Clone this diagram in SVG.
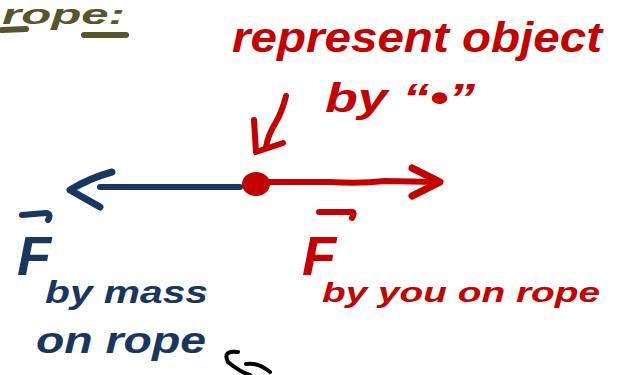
<svg xmlns="http://www.w3.org/2000/svg" width="619" height="375" viewBox="0 0 619 375">
<style>
.red{fill:#c40000}
.blue{fill:#19375e}
.olive{fill:#57552a}
.t{font-family:"Liberation Sans","DejaVu Sans",sans-serif;font-weight:bold;font-style:italic}
.sr{stroke:#c40000;fill:none;stroke-linecap:round;stroke-linejoin:round}
.sb{stroke:#19375e;fill:none;stroke-linecap:round;stroke-linejoin:round}
.so{stroke:#57552a;fill:none;stroke-linecap:round}
</style>
<rect width="619" height="375" fill="#ffffff"/>
<g id="title">
<text class="t olive" x="2" y="24" font-size="28" textLength="123" lengthAdjust="spacingAndGlyphs">rope:</text>
<path class="so" stroke-width="6" d="M2 30 L26 29 M84 35 L126 35"/>
</g>
<g id="note">
<text class="t red" x="232" y="52" font-size="42" textLength="370" lengthAdjust="spacingAndGlyphs">represent object</text>
<text class="t red" x="325" y="112" font-size="40" textLength="150" lengthAdjust="spacingAndGlyphs">by “•”</text>
</g>
<g id="object">
<ellipse class="red" cx="256" cy="184" rx="14" ry="12"/>
</g>
<g id="label-you">
<path class="sr" stroke-width="6" d="M319 212 L350 212 Q356 211 352 218"/>
<text class="t red" x="302" y="275" font-size="56">F</text>
<text class="t red" x="322" y="302" font-size="28" textLength="278" lengthAdjust="spacingAndGlyphs">by you on rope</text>
</g>
<g id="label-mass">
<path class="sb" stroke-width="6" d="M22 215 L46 213 Q52 214 48 220"/>
<text class="t blue" x="17" y="275" font-size="56">F</text>
<text class="t blue" x="45" y="303" font-size="32" textLength="163" lengthAdjust="spacingAndGlyphs">by mass</text>
<text class="t blue" x="36" y="353" font-size="36" textLength="170" lengthAdjust="spacingAndGlyphs">on rope</text>
</g>
<g id="connectors">
<path class="sr" stroke-width="6" d="M268 182 L330 182 Q360 184 385 181 L438 182"/>
<path class="sr" stroke-width="7" d="M412 168 L440 182 L412 196"/>
<path class="sb" stroke-width="6" d="M100 187 L240 187"/>
<path class="sb" stroke-width="7" d="M112 172 Q90 178 70 190 L100 207"/>
<path class="sr" stroke-width="6" d="M286 96 Q282 112 276 122 Q268 135 266 147"/>
<path class="sr" stroke-width="6" d="M254 120 L256 152 L283 143"/>
<path stroke="#000" stroke-width="4" fill="none" stroke-linecap="round" d="M238 352 Q222 350 228 362 Q240 372 250 375 M246 364 Q258 362 270 372"/>
</g>
</svg>
